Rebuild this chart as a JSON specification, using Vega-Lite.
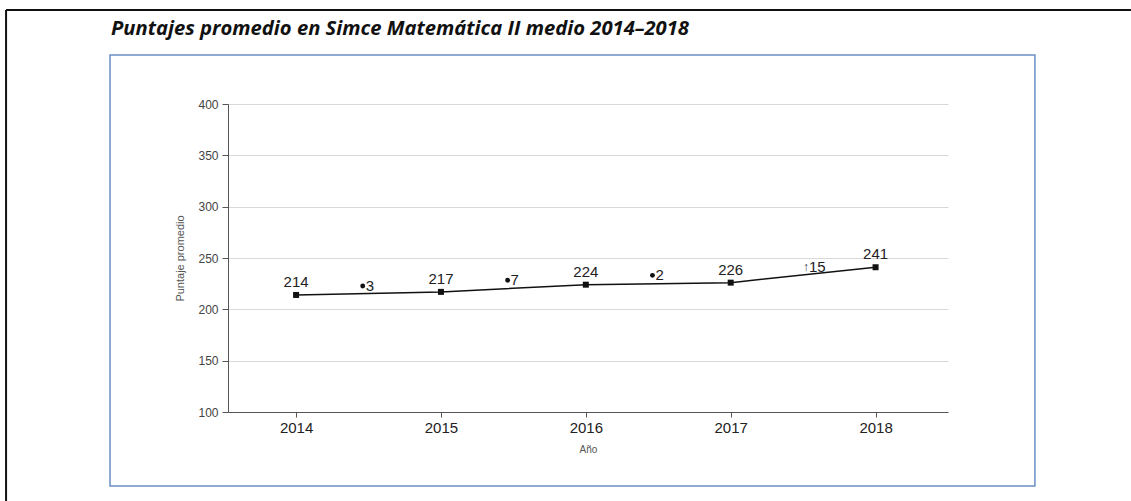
{
  "$schema": "https://vega.github.io/schema/vega-lite/v6.json",
  "width": 720,
  "height": 308,
  "autosize": {"type": "none"},
  "padding": {"left": 228, "top": 104, "right": 183, "bottom": 89},
  "background": "white",
  "config": {
    "view": {"stroke": null},
    "font": "Liberation Sans"
  },
  "title": {
    "text": "Puntajes promedio en Simce Matemática II medio 2014–2018",
    "anchor": "start",
    "frame": "group",
    "dx": -117,
    "offset": -46,
    "baseline": "alphabetic",
    "font": "Open Sans",
    "fontStyle": "italic",
    "fontWeight": "bold",
    "fontSize": 20.2,
    "color": "#111111"
  },
  "datasets": {
    "scores": [
      {"year": 2014, "score": 214},
      {"year": 2015, "score": 217},
      {"year": 2016, "score": 224},
      {"year": 2017, "score": 226},
      {"year": 2018, "score": 241}
    ],
    "changes": [
      {"year": 2014.46, "score": 222.7, "change": "3", "marker": "dot"},
      {"year": 2015.46, "score": 228.3, "change": "7", "marker": "dot"},
      {"year": 2016.46, "score": 233.1, "change": "2", "marker": "dot"},
      {"year": 2017.52, "score": 240.9, "change": "15", "marker": "up"}
    ],
    "box": [
      {"x": 2012.7155, "x2": 2019.10, "y": 27.9, "y2": 447.7}
    ],
    "border": [
      {"x": 2011.998, "x2": 2011.998, "y": 13.3, "y2": 491.6},
      {"x": 2011.998, "x2": 2019.763, "y": 491.6, "y2": 491.6}
    ]
  },
  "layer": [
    {
      "data": {"name": "box"},
      "mark": {"type": "rect", "filled": false, "stroke": "#6a8fc6", "strokeWidth": 1.5, "clip": false},
      "encoding": {
        "x": {"field": "x", "type": "quantitative", "scale": {"domain": [2013.53, 2018.5]}},
        "x2": {"field": "x2"},
        "y": {"field": "y", "type": "quantitative", "scale": {"domain": [100, 400]}},
        "y2": {"field": "y2"}
      }
    },
    {
      "data": {"name": "border"},
      "mark": {"type": "rule", "stroke": "#111111", "strokeWidth": 2, "clip": false},
      "encoding": {
        "x": {"field": "x", "type": "quantitative"},
        "x2": {"field": "x2"},
        "y": {"field": "y", "type": "quantitative"},
        "y2": {"field": "y2"}
      }
    },
    {
      "data": {"name": "scores"},
      "mark": {"type": "line", "color": "#111111", "strokeWidth": 1.5},
      "encoding": {
        "x": {
          "field": "year", "type": "quantitative",
          "scale": {"domain": [2013.53, 2018.5], "nice": false, "zero": false},
          "axis": {
            "title": "Año",
            "values": [2014, 2015, 2016, 2017, 2018],
            "format": "d",
            "grid": false,
            "domainColor": "#555555",
            "tickColor": "#555555",
            "tickSize": 5,
            "labelFontSize": 15,
            "labelColor": "#222222",
            "labelPadding": 3,
            "titleFontSize": 10,
            "titleFontWeight": "normal",
            "titleColor": "#555555",
            "titlePadding": 9
          }
        },
        "y": {
          "field": "score", "type": "quantitative",
          "scale": {"domain": [100, 400], "nice": false, "zero": false},
          "axis": {
            "title": "Puntaje promedio",
            "values": [100, 150, 200, 250, 300, 350, 400],
            "gridColor": "#d9d9d9",
            "gridWidth": 1,
            "domainColor": "#555555",
            "tickColor": "#555555",
            "tickSize": 6,
            "labelFontSize": 12,
            "labelColor": "#444444",
            "labelPadding": 4,
            "titleFontSize": 11,
            "titleFontWeight": "normal",
            "titleColor": "#555555",
            "titlePadding": 12
          }
        }
      }
    },
    {
      "data": {"name": "scores"},
      "mark": {"type": "square", "color": "#111111", "size": 36, "opacity": 1, "filled": true},
      "encoding": {
        "x": {"field": "year", "type": "quantitative"},
        "y": {"field": "score", "type": "quantitative"}
      }
    },
    {
      "data": {"name": "scores"},
      "mark": {"type": "text", "dy": -13, "fontSize": 15, "color": "#222222", "baseline": "middle", "align": "center"},
      "encoding": {
        "x": {"field": "year", "type": "quantitative"},
        "y": {"field": "score", "type": "quantitative"},
        "text": {"field": "score", "type": "quantitative"}
      }
    },
    {
      "data": {"name": "changes"},
      "transform": [{"filter": "datum.marker === 'dot'"}],
      "mark": {"type": "circle", "color": "#111111", "size": 24, "opacity": 1},
      "encoding": {
        "x": {"field": "year", "type": "quantitative"},
        "y": {"field": "score", "type": "quantitative"}
      }
    },
    {
      "data": {"name": "changes"},
      "transform": [{"filter": "datum.marker === 'up'"}],
      "mark": {"type": "text", "text": "↑", "fontSize": 12, "color": "#333333", "baseline": "middle", "align": "center"},
      "encoding": {
        "x": {"field": "year", "type": "quantitative"},
        "y": {"field": "score", "type": "quantitative"}
      }
    },
    {
      "data": {"name": "changes"},
      "mark": {"type": "text", "dx": 3, "fontSize": 15, "color": "#222222", "baseline": "middle", "align": "left"},
      "encoding": {
        "x": {"field": "year", "type": "quantitative"},
        "y": {"field": "score", "type": "quantitative"},
        "text": {"field": "change", "type": "nominal"}
      }
    }
  ]
}
